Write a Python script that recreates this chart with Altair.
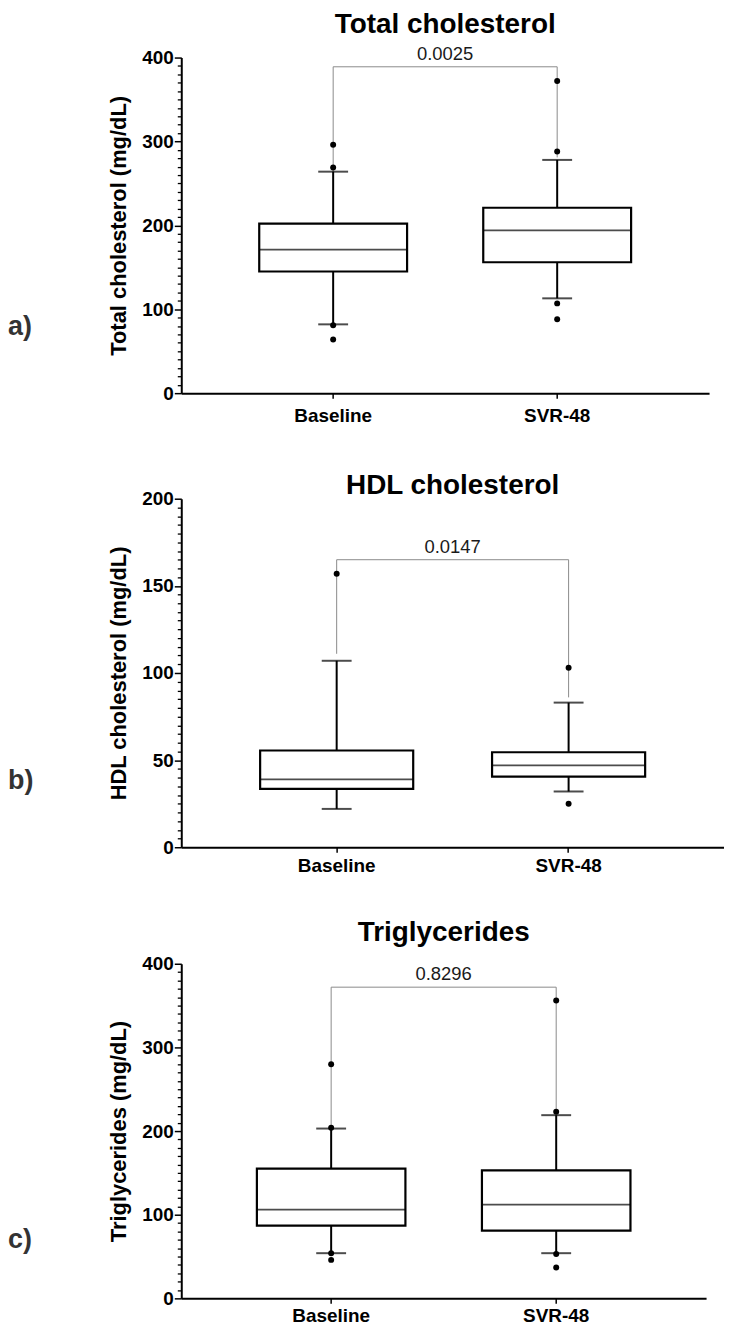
import altair as alt
import pandas as pd

groups = ["Baseline", "SVR-48"]

# Total cholesterol
tc_q1 = [145, 156]
tc_med = [171, 194]
tc_q3 = [202, 221]
tc_lo = [82, 113]
tc_hi = [264, 278]
tc_out = [[296, 269, 81, 64], [372, 288, 107, 88]]
tc_bracket = 389
tc_legs = [264, 281]
tc_p = "0.0025"

# HDL cholesterol
hdl_q1 = [33.5, 40.5]
hdl_med = [39, 47]
hdl_q3 = [55.5, 54.5]
hdl_lo = [22, 32]
hdl_hi = [107, 83]
hdl_out = [[157], [103, 25]]
hdl_bracket = 165
hdl_legs = [111, 86]
hdl_p = "0.0147"

# Triglycerides
tg_q1 = [87, 81]
tg_med = [106, 112]
tg_q3 = [155, 153]
tg_lo = [54, 54]
tg_hi = [203, 219]
tg_out = [[280, 204, 54, 46], [356, 223, 53, 37]]
tg_bracket = 372
tg_legs = [206, 224]
tg_p = "0.8296"

FONT = "Liberation Sans"


def panel(title, ytitle, ymax, major, minor, width, height, po, q1, med, q3, lo, hi,
          outs, bracket, legs, pval, letter, title_gap, letter_up, xlab_pad):
    step = width / (2 + 2 * po)
    box_w = 0.66 * step
    stats = pd.DataFrame({"group": groups, "q1": q1, "med": med, "q3": q3,
                          "lo": lo, "hi": hi})
    og, ov = [], []
    for g, vals in zip(groups, outs):
        for v in vals:
            og.append(g)
            ov.append(v)
    outdf = pd.DataFrame({"group": og, "value": ov})
    brdf = pd.DataFrame({"group": [groups[0], groups[0], groups[1], groups[1]],
                         "value": [legs[0], bracket, bracket, legs[1]],
                         "order": [0, 1, 2, 3]})
    pdf = pd.DataFrame({"value": [bracket], "label": [pval]})
    ldf = pd.DataFrame({"label": [letter]})
    tdf = pd.DataFrame({"label": [title]})
    minors = [v for v in range(0, ymax + 1, minor) if v % major != 0]
    mdf = pd.DataFrame({"value": minors})

    xscale = alt.Scale(type="band", domain=groups, paddingInner=0, paddingOuter=po)
    xaxis = alt.Axis(title=None, labelFont=FONT, labelFontWeight="bold",
                     labelFontSize=19, labelColor="black", tickSize=5,
                     tickWidth=1.5, tickColor="black", domainWidth=2,
                     domainColor="black", labelPadding=xlab_pad, labelAngle=0)
    yscale = alt.Scale(domain=[0, ymax], nice=False, zero=True)
    yaxis = alt.Axis(
        orient="left",
        title=ytitle, titleFont=FONT, titleFontSize=22, titleFontWeight="bold",
        titleColor="black", titlePadding=11,
        values=list(range(0, ymax + 1, major)),
        labelFont=FONT, labelFontSize=19,
        labelFontWeight="bold", labelColor="black", labelPadding=1,
        tickSize=7, tickWidth=1.5, tickColor="black", domainWidth=2,
        domainColor="black", grid=False)
    minor_axis = alt.Axis(orient="left", values=minors, labels=False, domain=False,
                          tickSize=4, tickWidth=1.3, tickColor="black", title=None,
                          grid=False)

    x = alt.X("group:N", scale=xscale, axis=xaxis)

    def y(field):
        return alt.Y(f"{field}:Q", scale=yscale, axis=yaxis)

    base = alt.Chart(stats)
    upper = base.mark_rule(color="black", strokeWidth=2).encode(x=x, y=y("q3"), y2="hi")
    lower = base.mark_rule(color="black", strokeWidth=2).encode(x=x, y=y("lo"), y2="q1")
    box = base.mark_bar(fill="white", stroke="black", strokeWidth=2.2,
                        width={"band": 0.66}).encode(x=x, y=y("q1"), y2="q3")
    medl = base.mark_tick(color="black", thickness=1.7, size=box_w).encode(x=x, y=y("med"))
    caph = base.mark_tick(color="black", thickness=2, size=30).encode(x=x, y=y("hi"))
    capl = base.mark_tick(color="black", thickness=2, size=30).encode(x=x, y=y("lo"))
    br = alt.Chart(brdf).mark_line(color="#8a8a8a", strokeWidth=1).encode(
        x=x, y=y("value"), order="order:Q")
    pts = alt.Chart(outdf).mark_circle(color="black", opacity=1, size=36).encode(
        x=x, y=y("value"))
    ptxt = alt.Chart(pdf).mark_text(font=FONT, fontSize=18.5, color="#1a1a1a",
                                    baseline="bottom", dy=-3).encode(
        x=alt.value(width / 2), y=y("value"), text="label:N")
    let = alt.Chart(ldf).mark_text(font=FONT, fontSize=27, fontWeight="bold",
                                   color="#333333", align="left",
                                   baseline="middle").encode(
        x=alt.value(-174), y=alt.value(height - letter_up), text="label:N")
    ttl = alt.Chart(tdf).mark_text(font=FONT, fontSize=28, fontWeight="bold",
                                   color="black", align="center",
                                   baseline="alphabetic").encode(
        x=alt.value(width / 2), y=alt.value(-title_gap), text="label:N")

    main = alt.layer(br, upper, lower, box, medl, caph, capl, pts, ptxt, let, ttl)
    minor_layer = alt.Chart(mdf).mark_point(opacity=0).encode(
        x=alt.value(0), y=alt.Y("value:Q", scale=yscale, axis=minor_axis))

    return alt.layer(main, minor_layer).resolve_axis(y="independent").properties(
        width=width, height=height)


a = panel("Total cholesterol", "Total cholesterol (mg/dL)", 400, 100, 10, 530, 337, 0.178,
          tc_q1, tc_med, tc_q3, tc_lo, tc_hi, tc_out, tc_bracket, tc_legs, tc_p, "a)", 25, 66, 8)
b = panel("HDL cholesterol", "HDL cholesterol (mg/dL)", 200, 50, 5, 545, 350, 0.17,
          hdl_q1, hdl_med, hdl_q3, hdl_lo, hdl_hi, hdl_out, hdl_bracket, hdl_legs, hdl_p, "b)", 5, 66, 4)
c = panel("Triglycerides", "Triglycerides (mg/dL)", 400, 100, 10, 527, 336, 0.166,
          tg_q1, tg_med, tg_q3, tg_lo, tg_hi, tg_out, tg_bracket, tg_legs, tg_p, "c)", 23, 59, 3)

chart = alt.vconcat(alt.vconcat(a, b, spacing=47), c, spacing=44).properties(
    padding={"left": 0, "top": 0, "right": 0, "bottom": 0}
).configure(background="white", view=alt.ViewConfig(strokeWidth=0, stroke="transparent"))

chart.save("out.html", embed_options={"renderer": "svg", "actions": False})
